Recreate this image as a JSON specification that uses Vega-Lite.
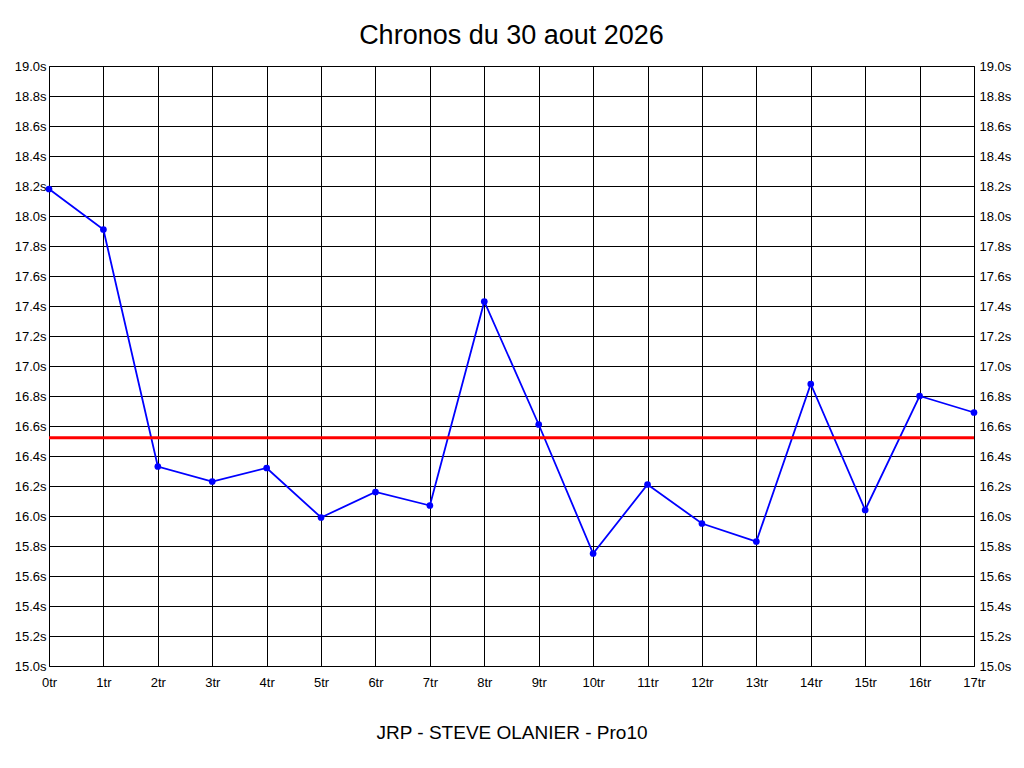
{
  "$schema": "https://vega.github.io/schema/vega-lite/v6.json",
  "autosize": "none",
  "width": 925,
  "height": 600,
  "padding": {"left": 49, "top": 66, "right": 50, "bottom": 102},
  "background": "white",
  "title": {
    "text": "Chronos du 30 aout 2026",
    "font": "Liberation Sans",
    "fontSize": 27,
    "fontWeight": "normal",
    "color": "black",
    "offset": 10
  },
  "config": {
    "view": {"stroke": "black", "strokeWidth": 1},
    "axis": {
      "labelFont": "Liberation Sans",
      "labelFontSize": 13,
      "labelColor": "black",
      "gridColor": "black",
      "gridOpacity": 1,
      "gridWidth": 1,
      "domain": false,
      "ticks": false
    }
  },
  "data": {
    "values": [
      {"tour": 0, "chrono": 18.18},
      {"tour": 1, "chrono": 17.91},
      {"tour": 2, "chrono": 16.33},
      {"tour": 3, "chrono": 16.23},
      {"tour": 4, "chrono": 16.32},
      {"tour": 5, "chrono": 15.99},
      {"tour": 6, "chrono": 16.16},
      {"tour": 7, "chrono": 16.07},
      {"tour": 8, "chrono": 17.43},
      {"tour": 9, "chrono": 16.61},
      {"tour": 10, "chrono": 15.75},
      {"tour": 11, "chrono": 16.21},
      {"tour": 12, "chrono": 15.95},
      {"tour": 13, "chrono": 15.83},
      {"tour": 14, "chrono": 16.88},
      {"tour": 15, "chrono": 16.04},
      {"tour": 16, "chrono": 16.8},
      {"tour": 17, "chrono": 16.69}
    ]
  },
  "layer": [
    {
      "mark": {"type": "line", "color": "#0000ff", "strokeWidth": 1.8, "point": {"filled": true, "color": "#0000ff", "size": 45, "shape": "circle", "opacity": 1}},
      "encoding": {
        "x": {
          "field": "tour",
          "type": "quantitative",
          "scale": {"domain": [0, 17], "nice": false},
          "axis": {
            "values": [0, 1, 2, 3, 4, 5, 6, 7, 8, 9, 10, 11, 12, 13, 14, 15, 16, 17],
            "labelExpr": "datum.value + 'tr'",
            "labelPadding": 10,
            "labelFlush": false,
            "title": "JRP - STEVE OLANIER - Pro10",
            "titleFont": "Liberation Sans",
            "titleFontSize": 19,
            "titleFontWeight": "normal",
            "titleColor": "black",
            "titlePadding": 34
          }
        },
        "y": {
          "field": "chrono",
          "type": "quantitative",
          "scale": {"domain": [15, 19], "nice": false, "zero": false},
          "axis": {
            "orient": "left",
            "values": [15, 15.2, 15.4, 15.6, 15.8, 16, 16.2, 16.4, 16.6, 16.8, 17, 17.2, 17.4, 17.6, 17.8, 18, 18.2, 18.4, 18.6, 18.8, 19],
            "labelExpr": "format(datum.value, '.1f') + 's'",
            "labelPadding": 3,
            "labelFlush": false,
            "title": null
          }
        }
      }
    },
    {
      "mark": {"type": "rule", "color": "#ff0000", "strokeWidth": 3},
      "encoding": {
        "y": {
          "aggregate": "mean",
          "field": "chrono",
          "type": "quantitative",
          "axis": {
            "orient": "right",
            "values": [15, 15.2, 15.4, 15.6, 15.8, 16, 16.2, 16.4, 16.6, 16.8, 17, 17.2, 17.4, 17.6, 17.8, 18, 18.2, 18.4, 18.6, 18.8, 19],
            "labelExpr": "format(datum.value, '.1f') + 's'",
            "labelPadding": 5,
            "labelFlush": false,
            "grid": false,
            "title": null
          }
        }
      }
    }
  ],
  "resolve": {"axis": {"y": "independent"}}
}
